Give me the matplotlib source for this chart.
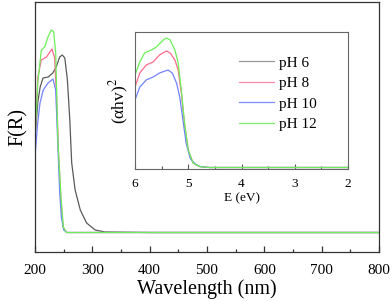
import matplotlib
matplotlib.use("Agg")
import matplotlib.pyplot as plt
from matplotlib.ticker import MultipleLocator, NullLocator
from matplotlib.lines import Line2D

plt.rcParams['font.family'] = ['Liberation Serif', 'DejaVu Serif']
plt.rcParams['mathtext.fontset'] = 'stix'

labels = ["pH 6", "pH 8", "pH 10", "pH 12"]
colors = ["#5a5a5a", "#ff6a8c", "#7383ff", "#6cee5a"]
legend_colors = ["#9a9a9a", "#ff8aa8", "#7f8cff", "#7cf06a"]

# Main panel: F(R) vs wavelength (nm), arbitrary units
wl_ph6 = [200, 205, 209, 214, 223, 231, 237, 243, 247.6, 252, 256.5, 260.7, 264, 270, 279, 290, 305, 322, 400, 800]
fr_ph6 = [115, 150, 165, 174, 175, 179, 185, 195, 197, 194, 172, 132, 89, 62, 42, 29, 22, 20, 19.5, 19.5]

wl_ph8 = [200, 205, 211, 220, 229.6, 234.3, 238, 241, 245, 249, 255, 800]
fr_ph8 = [112, 175, 192, 195, 203, 194, 150, 100, 55, 25, 19.5, 19.5]

wl_ph10 = [200, 204, 208.7, 214.4, 222.7, 231.4, 236.1, 240, 243, 246, 250, 256, 800]
fr_ph10 = [95, 125, 149, 162, 169, 173, 162, 105, 60, 35, 22, 19.5, 19.5]

wl_ph12 = [200, 205, 211, 217, 222.7, 228.4, 232.6, 236.1, 240, 245.3, 249.4, 255, 800]
fr_ph12 = [115, 170, 202, 205, 215, 222, 220, 199, 110, 55, 25, 19.5, 19.5]

# Inset: (alpha h nu)^2 vs E (eV)
e_ph8 = [6.0, 5.91, 5.79, 5.66, 5.54, 5.41, 5.34, 5.25, 5.19, 5.13, 5.07, 5.0, 4.91, 4.78, 4.6, 2.0]
a_ph8 = [82, 96, 104, 107, 114, 118, 116, 109, 99, 76, 45, 19, 6, 2.3, 1.5, 1.5]

e_ph10 = [6.0, 5.91, 5.79, 5.66, 5.54, 5.38, 5.30, 5.22, 5.16, 5.10, 5.04, 4.96, 4.85, 4.75, 4.6, 2.0]
a_ph10 = [69, 82, 89, 92, 96, 99, 96, 86, 72, 49, 26, 10, 4, 2.2, 1.5, 1.5]

e_ph12 = [6.0, 5.91, 5.82, 5.69, 5.60, 5.47, 5.41, 5.34, 5.25, 5.19, 5.13, 5.07, 5.0, 4.91, 4.78, 4.6, 2.0]
a_ph12 = [94, 107, 116, 119, 122, 129, 131, 129, 119, 106, 79, 46, 19, 6, 2.3, 1.5, 1.5]

fig = plt.figure(figsize=(3.92, 3.01), dpi=100)
W, H = 392, 301
ax = fig.add_axes([35 / W, 1 - 252 / H, (379 - 35) / W, (252 - 2) / H])

for wl, fr, c in [(wl_ph6, fr_ph6, colors[0]), (wl_ph8, fr_ph8, colors[1]),
                  (wl_ph10, fr_ph10, colors[2]), (wl_ph12, fr_ph12, colors[3])]:
    ax.plot(wl, fr, color=c, lw=0.9)

ax.set_xlim(200, 800)
ax.set_ylim(0, 250)
ax.xaxis.set_major_locator(MultipleLocator(100))
ax.xaxis.set_minor_locator(MultipleLocator(50))
ax.yaxis.set_major_locator(NullLocator())
ax.tick_params(axis='x', which='major', direction='in', length=4, width=0.9, labelsize=11, pad=9, colors='#333333', labelcolor='black')
ax.tick_params(axis='x', which='minor', direction='in', length=2.5, width=0.9, colors='#333333')
for s in ax.spines.values():
    s.set_color('#333333')
    s.set_linewidth(0.9)
ax.set_xlabel("Wavelength (nm)", fontsize=14.5, labelpad=1.5)
ax.set_ylabel("F(R)", fontsize=14.5, labelpad=5)

# Inset
ins = fig.add_axes([135 / W, 1 - 169 / H, (348 - 135) / W, (169 - 32) / H])
for e, a, c in [(e_ph8, a_ph8, colors[1]), (e_ph10, a_ph10, colors[2]), (e_ph12, a_ph12, colors[3])]:
    ins.plot(e, a, color=c, lw=0.9)
ins.set_xlim(6, 2)
ins.set_ylim(0, 137)
ins.xaxis.set_major_locator(MultipleLocator(1))
ins.xaxis.set_minor_locator(MultipleLocator(0.5))
ins.yaxis.set_major_locator(NullLocator())
ins.tick_params(axis='x', which='major', direction='in', length=3.5, width=0.8, labelsize=9.5, pad=6.5, colors='#555555', labelcolor='black')
ins.tick_params(axis='x', which='minor', direction='in', length=2, width=0.8, colors='#555555')
for s in ins.spines.values():
    s.set_color('#666666')
    s.set_linewidth(0.8)
ins.set_xlabel("E (eV)", fontsize=9.5, labelpad=1.5)
ins.set_ylabel("(αhv)$^2$", fontsize=12.5, labelpad=3)

handles = [Line2D([], [], color=c, lw=0.9) for c in legend_colors]
fig.legend(handles, labels, loc='upper left', bbox_to_anchor=(239 / W, 1 - 56 / H),
           frameon=False, fontsize=11, handlelength=2.3, handletextpad=0.35,
           labelspacing=0.45, borderpad=0, borderaxespad=0)

fig.savefig("out.png", dpi=100)
